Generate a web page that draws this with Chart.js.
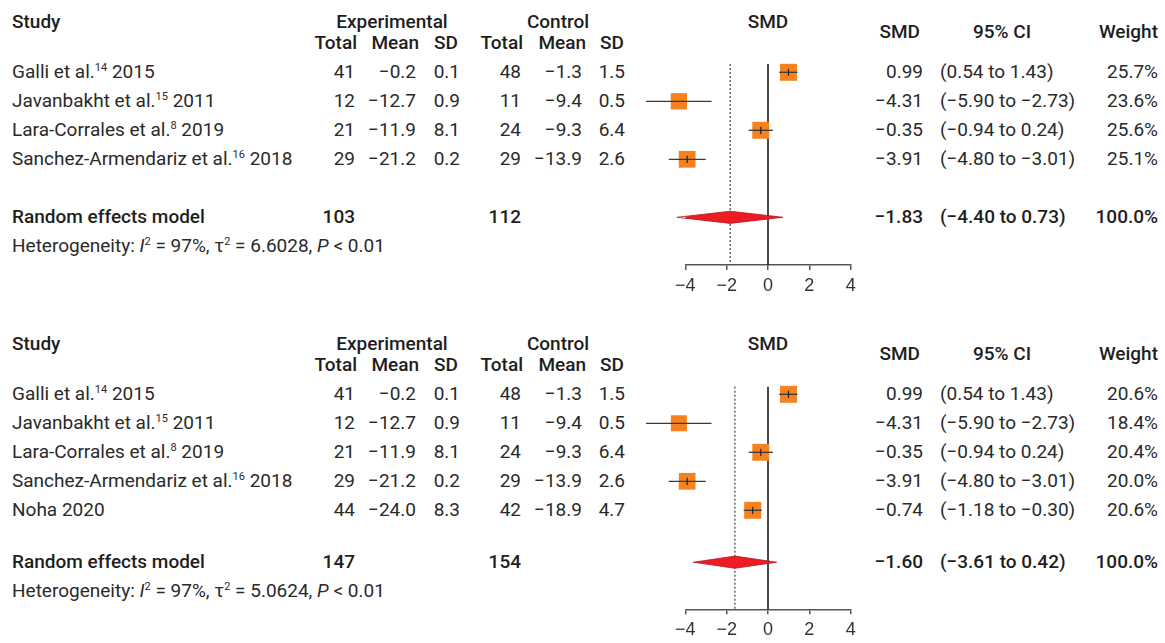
<!DOCTYPE html>
<html>
<head>
<meta charset="utf-8">
<script src="https://cdn.jsdelivr.net/npm/chart.js@4.4.1/dist/chart.umd.min.js"></script>
<style>
  body { margin: 0; background: #fff; }
  #page { position: relative; width: 1165px; height: 643px; overflow: hidden;
          font-family: Roboto, "Noto Sans", sans-serif; color: #2a2a2a; }
  .txt { position: absolute; white-space: nowrap; font-size: 19px; line-height: 22px; }
  .b { font-weight: 500; color: #1e1e1e; }
  sup { font-size: 11px; line-height: 0; vertical-align: 7px; }
  .plot { position: absolute; left: 630px; }
</style>
</head>
<body>
<div id="page">
  <div class="plot" style="top:50px"><canvas id="c1" width="240" height="250"></canvas></div>
  <div class="plot" style="top:370px"><canvas id="c2" width="240" height="273"></canvas></div>
</div>
<script>
// study labels
const studyNames = ["Galli et al.", "Javanbakht et al.", "Lara-Corrales et al.", "Sanchez-Armendariz et al.", "Noha"];
const studyRefs = ["14", "15", "8", "16", ""];
const studyYears = [2015, 2011, 2019, 2018, 2020];
const xTicks = [-4, -2, 0, 2, 4];

// panel 1 (4 studies)
const expN1 = [41, 12, 21, 29];
const expMean1 = [-0.2, -12.7, -11.9, -21.2];
const expSd1 = [0.1, 0.9, 8.1, 0.2];
const ctlN1 = [48, 11, 24, 29];
const ctlMean1 = [-1.3, -9.4, -9.3, -13.9];
const ctlSd1 = [1.5, 0.5, 6.4, 2.6];
const smd1 = [0.99, -4.31, -0.35, -3.91];
const ciLow1 = [0.54, -5.90, -0.94, -4.80];
const ciHigh1 = [1.43, -2.73, 0.24, -3.01];
const weight1 = [25.7, 23.6, 25.6, 25.1];
const pooled1 = [-1.83, -4.40, 0.73];   // estimate, lower, upper
const totals1 = [103, 112];
const het1 = ["97%", "6.6028", "0.01"];

// panel 2 (5 studies)
const expN2 = [41, 12, 21, 29, 44];
const expMean2 = [-0.2, -12.7, -11.9, -21.2, -24.0];
const expSd2 = [0.1, 0.9, 8.1, 0.2, 8.3];
const ctlN2 = [48, 11, 24, 29, 42];
const ctlMean2 = [-1.3, -9.4, -9.3, -13.9, -18.9];
const ctlSd2 = [1.5, 0.5, 6.4, 2.6, 4.7];
const smd2 = [0.99, -4.31, -0.35, -3.91, -0.74];
const ciLow2 = [0.54, -5.90, -0.94, -4.80, -1.18];
const ciHigh2 = [1.43, -2.73, 0.24, -3.01, -0.30];
const weight2 = [20.6, 18.4, 20.4, 20.0, 20.6];
const pooled2 = [-1.60, -3.61, 0.42];
const totals2 = [147, 154];
const het2 = ["97%", "5.0624", "0.01"];

const page = document.getElementById("page");
const MINUS = "\u2212";
const fmt = (v, d) => (v < 0 ? MINUS : "") + Math.abs(v).toFixed(d);

function put(html, x, y, align, cls) {
  const el = document.createElement("div");
  el.className = "txt " + (cls || "");
  el.innerHTML = html;
  el.style.left = x + "px";
  el.style.top = y + "px";
  const tx = align === "right" ? "-100%" : align === "center" ? "-50%" : "0";
  el.style.transform = `translate(${tx}, -50%)`;
  page.appendChild(el);
}

function forest(p) {
  const n = p.smd.length;
  const maxW = Math.max(...p.weight);
  const datasets = [];

  // point estimate ticks (on top)
  datasets.push({
    data: p.smd.map((v, i) => ({ x: v, y: i })),
    pointStyle: "line", rotation: 90, pointRadius: 3.6,
    borderColor: "#222", borderWidth: 1.2, order: 0
  });
  // confidence intervals
  p.smd.forEach((v, i) => {
    datasets.push({
      data: [{ x: p.lo[i], y: i }, { x: p.hi[i], y: i }],
      showLine: true, pointRadius: 0, borderColor: "#3a3a3a", borderWidth: 1.3, order: 1
    });
  });
  // weighted squares
  datasets.push({
    data: p.smd.map((v, i) => ({ x: v, y: i })),
    pointStyle: "rect", backgroundColor: "#f5821f", borderWidth: 0,
    pointRadius: p.weight.map(w => 12 * Math.sqrt(w / maxW)), order: 2
  });
  // pooled diamond
  const r = p.sumRow, h = 0.21;
  datasets.push({
    data: [{ x: p.pooled[1], y: r }, { x: p.pooled[0], y: r - h }, { x: p.pooled[2], y: r },
           { x: p.pooled[0], y: r + h }, { x: p.pooled[1], y: r }],
    showLine: true, fill: "shape", tension: 0, pointRadius: 0,
    backgroundColor: "#ed1c24", borderColor: "#b5161c", borderWidth: 0.8, order: 3
  });
  // line of no effect + pooled estimate
  datasets.push({
    data: [{ x: 0, y: p.yMin }, { x: 0, y: p.yMax }],
    showLine: true, pointRadius: 0, borderColor: "#111", borderWidth: 1.5, order: 4
  });
  datasets.push({
    data: [{ x: p.pooled[0], y: p.yMin }, { x: p.pooled[0], y: p.yMax }],
    showLine: true, pointRadius: 0, borderColor: "#444", borderWidth: 1.2,
    borderDash: [2, 2], order: 5
  });
  datasets.forEach(d => d.clip = false);

  const chart = new Chart(document.getElementById(p.canvas), {
    type: "scatter",
    data: { datasets },
    options: {
      responsive: false, animation: false, events: [],
      layout: { padding: { left: 55.3, right: 19.3, top: p.padTop, bottom: 0 } },
      plugins: { legend: { display: false }, tooltip: { enabled: false } },
      scales: {
        x: {
          type: "linear", min: xTicks[0], max: xTicks[xTicks.length - 1],
          afterBuildTicks: s => { s.ticks = xTicks.map(v => ({ value: v })); },
          afterFit: s => { s.height = p.axisH; },
          grid: { display: true, drawOnChartArea: false, drawTicks: true, tickLength: 5,
                  color: "#555", lineWidth: 1.5 },
          border: { display: true, color: "#555", width: 1.5 },
          ticks: { padding: 5, color: "#333", font: { family: "Liberation Sans", size: 18 },
                   callback: v => (v < 0 ? MINUS : "") + Math.abs(v) }
        },
        y: { type: "linear", display: false, reverse: true, min: p.yMin, max: p.yMax }
      }
    }
  });

  const ys = chart.scales.y;
  const Y = v => p.top + ys.getPixelForValue(v);

  // headers
  put("Study", 12, Y(-1.74), "left", "b");
  put("Experimental", 392, Y(-1.74), "center", "b");
  put("Control", 558, Y(-1.74), "center", "b");
  put("SMD", 768, Y(-1.74), "center", "b");
  [["Total", 357], ["Mean", 419], ["SD", 458], ["Total", 523], ["Mean", 586], ["SD", 624]]
    .forEach(([t, x]) => put(t, x, Y(-1), "right", "b"));
  put("SMD", 920, Y(-1.38), "right", "b");
  put("95% CI", 1002, Y(-1.38), "center", "b");
  put("Weight", 1158, Y(-1.38), "right", "b");

  // study rows
  for (let i = 0; i < n; i++) {
    const y = Y(i);
    const ref = studyRefs[i] ? `<sup>${studyRefs[i]}</sup>` : "";
    put(`${studyNames[i]}${ref} ${studyYears[i]}`, 12, y, "left");
    put(p.expN[i], 355, y, "right");
    put(fmt(p.expMean[i], 1), 416, y, "right");
    put(fmt(p.expSd[i], 1), 460, y, "right");
    put(p.ctlN[i], 521, y, "right");
    put(fmt(p.ctlMean[i], 1), 582, y, "right");
    put(fmt(p.ctlSd[i], 1), 625, y, "right");
    put(fmt(p.smd[i], 2), 923, y, "right");
    put(`(${fmt(p.lo[i], 2)} to ${fmt(p.hi[i], 2)})`, 940, y, "left");
    put(p.weight[i].toFixed(1) + "%", 1158, y, "right");
  }

  // summary rows
  const sy = Y(p.sumRow);
  put("Random effects model", 12, sy, "left", "b");
  put(p.totals[0], 355, sy, "right", "b");
  put(p.totals[1], 521, sy, "right", "b");
  put(fmt(p.pooled[0], 2), 923, sy, "right", "b");
  put(`(${fmt(p.pooled[1], 2)} to ${fmt(p.pooled[2], 2)})`, 940, sy, "left", "b");
  put("100.0%", 1158, sy, "right", "b");
  put(`Heterogeneity: <i>I</i><sup>2</sup> = ${p.het[0]}, \u03c4<sup>2</sup> = ${p.het[1]}, <i>P</i> &lt; ${p.het[2]}`,
      12, Y(p.sumRow + 1), "left");
}

forest({
  canvas: "c1", top: 50, padTop: 14, axisH: 35, yMin: -0.286, yMax: 6.645, sumRow: 5,
  expN: expN1, expMean: expMean1, expSd: expSd1, ctlN: ctlN1, ctlMean: ctlMean1, ctlSd: ctlSd1,
  smd: smd1, lo: ciLow1, hi: ciHigh1, weight: weight1, pooled: pooled1, totals: totals1, het: het1
});
forest({
  canvas: "c2", top: 370, padTop: 16.7, axisH: 33.7, yMin: -0.262, yMax: 7.414, sumRow: 5.79,
  expN: expN2, expMean: expMean2, expSd: expSd2, ctlN: ctlN2, ctlMean: ctlMean2, ctlSd: ctlSd2,
  smd: smd2, lo: ciLow2, hi: ciHigh2, weight: weight2, pooled: pooled2, totals: totals2, het: het2
});
</script>
</body>
</html>
